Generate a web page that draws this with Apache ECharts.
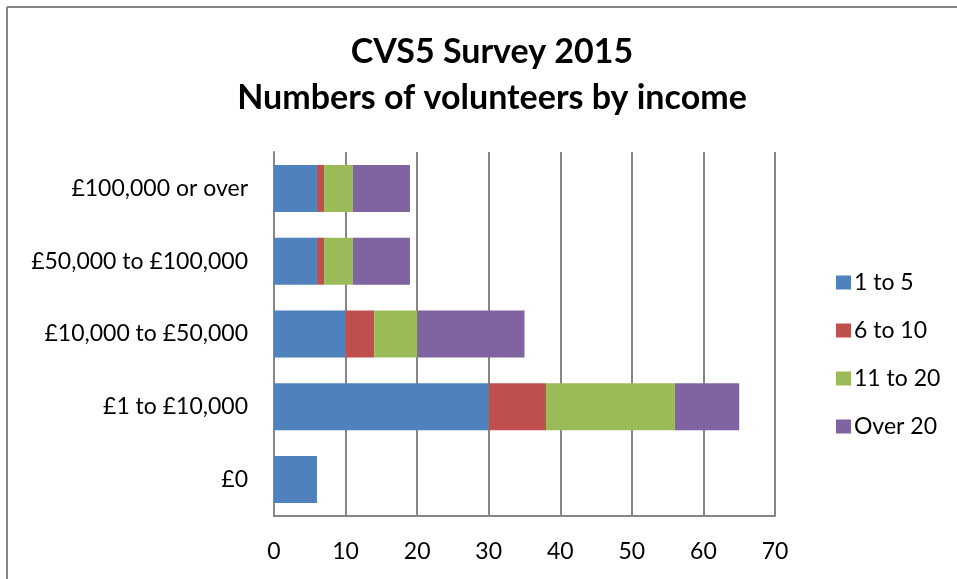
<!DOCTYPE html>
<html>
<head>
<meta charset="utf-8">
<script src="https://cdn.jsdelivr.net/npm/echarts@6/dist/echarts.min.js"></script>
<style>
  html, body { margin: 0; padding: 0; background: #fff; }
  #chart { width: 957px; height: 579px; }
</style>
</head>
<body>
<div id="chart"></div>
<script>
// Income bands (bottom to top) and volunteer counts per size group
const categories = ['£0', '£1 to £10,000', '£10,000 to £50,000', '£50,000 to £100,000', '£100,000 or over'];
const seriesNames = ['1 to 5', '6 to 10', '11 to 20', 'Over 20'];
const vol1to5 = [6, 30, 10, 6, 6];
const vol6to10 = [0, 8, 4, 1, 1];
const vol11to20 = [0, 18, 6, 4, 4];
const volOver20 = [0, 9, 15, 8, 8];
const xTicks = [0, 10, 20, 30, 40, 50, 60, 70];

const colors = ['#4F81BD', '#C0504D', '#9BBB59', '#8064A2'];
const values = [vol1to5, vol6to10, vol11to20, volOver20];
const font = 'Lato, "Liberation Sans", sans-serif';

const chart = echarts.init(document.getElementById('chart'));
chart.setOption({
  backgroundColor: '#fff',
  animation: false,
  title: {
    text: 'CVS5 Survey 2015\nNumbers of volunteers by income',
    left: 487,
    textAlign: 'center',
    top: 24,
    textStyle: { fontFamily: font, fontSize: 34, fontWeight: 'bold', color: '#000', lineHeight: 46 }
  },
  legend: {
    orient: 'vertical',
    left: 831,
    top: 266,
    itemWidth: 15,
    itemHeight: 14,
    itemGap: 25,
    icon: 'rect',
    data: seriesNames,
    textStyle: { fontFamily: font, fontSize: 23, color: '#000', padding: [0, 0, 0, -2] }
  },
  grid: { left: 274, right: 182, top: 152, bottom: 63, containLabel: false },
  xAxis: {
    type: 'value',
    min: xTicks[0],
    max: xTicks[xTicks.length - 1],
    interval: 10,
    axisLine: { show: true, lineStyle: { color: '#868686', width: 2 } },
    axisTick: { show: false },
    axisLabel: { margin: 24, fontFamily: font, fontSize: 23, color: '#000' },
    splitLine: { show: true, lineStyle: { color: '#868686', width: 2 } }
  },
  yAxis: {
    type: 'category',
    data: categories,
    axisLine: { show: true, lineStyle: { color: '#868686', width: 2 } },
    axisTick: { show: false },
    axisLabel: { margin: 26, fontFamily: font, fontSize: 23, color: '#000' },
    splitLine: { show: false }
  },
  series: seriesNames.map((name, i) => ({
    name: name,
    type: 'bar',
    stack: 'total',
    barWidth: 47,
    data: values[i],
    itemStyle: { color: colors[i] }
  })),
  graphic: [
    { type: 'line', shape: { x1: 7, y1: 7, x2: 957, y2: 7 }, style: { stroke: '#868686', lineWidth: 2 } },
    { type: 'line', shape: { x1: 7, y1: 7, x2: 7, y2: 579 }, style: { stroke: '#868686', lineWidth: 2 } }
  ]
});
</script>
</body>
</html>
